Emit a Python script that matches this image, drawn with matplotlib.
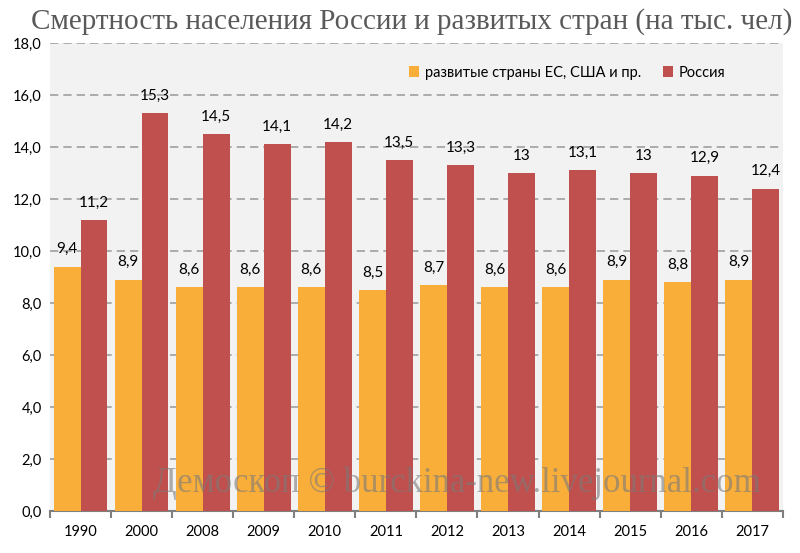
import matplotlib
matplotlib.use("Agg")
import matplotlib.pyplot as plt
import numpy as np

years = ["1990", "2000", "2008", "2009", "2010", "2011", "2012", "2013", "2014", "2015", "2016", "2017"]
developed = [9.4, 8.9, 8.6, 8.6, 8.6, 8.5, 8.7, 8.6, 8.6, 8.9, 8.8, 8.9]
russia = [11.2, 15.3, 14.5, 14.1, 14.2, 13.5, 13.3, 13.0, 13.1, 13.0, 12.9, 12.4]
developed_lbl = ["9,4", "8,9", "8,6", "8,6", "8,6", "8,5", "8,7", "8,6", "8,6", "8,9", "8,8", "8,9"]
russia_lbl = ["11,2", "15,3", "14,5", "14,1", "14,2", "13,5", "13,3", "13", "13,1", "13", "12,9", "12,4"]

c_dev = "#F9AE3A"
c_rus = "#C0504D"

plt.rcParams['font.family'] = ['Lato', 'DejaVu Sans']

fig = plt.figure(figsize=(8, 5.53), dpi=100)
ax = fig.add_axes([0.0625, 0.076, 0.916, 0.846])
ax.set_facecolor("#F2F2F2")

x = np.arange(len(years))
w = 0.44
ax.bar(x - w / 2, developed, w, color=c_dev, label="развитые страны ЕС, США и пр.", zorder=3)
ax.bar(x + w / 2, russia, w, color=c_rus, label="Россия", zorder=3)

for xi, v, t in zip(x, developed, developed_lbl):
    ax.text(xi - w / 2, v + 0.4, t, ha="center", va="bottom", fontsize=11, zorder=4)
for xi, v, t in zip(x, russia, russia_lbl):
    ax.text(xi + w / 2, v + 0.4, t, ha="center", va="bottom", fontsize=11, zorder=4)

ax.set_xlim(-0.5, len(years) - 0.5)
ax.set_ylim(0, 18)
ax.set_yticks(np.arange(0, 18.1, 2))
ax.set_yticklabels([f"{v:.1f}".replace(".", ",") for v in np.arange(0, 18.1, 2)], fontsize=10.5)
ax.set_xticks(x)
ax.set_xticklabels(years, fontsize=10.5)
ax.set_xticks(np.arange(-0.5, len(years)), minor=True)
ax.tick_params(axis="x", which="major", length=0, pad=10)
ax.tick_params(axis="x", which="minor", length=5, color="#7f7f7f", width=1.5)
ax.tick_params(axis="y", length=0, pad=6)

ax.yaxis.grid(True, linestyle=(0, (5, 3)), color="#a0a0a0", linewidth=1.2, zorder=0)
for s in ["top", "right", "left"]:
    ax.spines[s].set_visible(False)
ax.spines["bottom"].set_color("#7f7f7f")
ax.spines["bottom"].set_linewidth(1.5)

ax.legend(loc="upper right", bbox_to_anchor=(0.94, 0.98), ncol=2, frameon=False,
          fontsize=10.5, handlelength=0.7, handleheight=0.7, handletextpad=0.4, columnspacing=1.5)

fig.text(0.99, 0.985, "Смертность населения России и развитых стран (на тыс. чел)",
         ha="right", va="top", fontsize=21, color="#595959", family=["Liberation Serif", "DejaVu Serif"])

ax.text(0.97, 0.06, "Демоскоп © burckina-new.livejournal.com", transform=ax.transAxes,
        ha="right", va="center", fontsize=25, color="#7a7a7a", alpha=0.6,
        family=["Liberation Serif", "DejaVu Serif"], zorder=5)

fig.savefig("out.png", dpi=100)
